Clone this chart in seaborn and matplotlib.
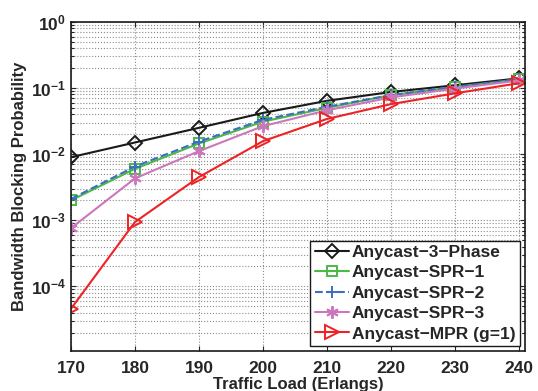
import numpy as np
import pandas as pd
import seaborn as sns
import matplotlib as mpl
mpl.use('Agg')
import matplotlib.pyplot as plt
from matplotlib.ticker import LogLocator, NullFormatter

sns.set_style('ticks')
plt.rcParams['font.family'] = ['Liberation Sans', 'DejaVu Sans']
plt.rcParams['font.weight'] = 'bold'
plt.rcParams['mathtext.default'] = 'bf'

load = [170, 180, 190, 200, 210, 220, 230, 240]
phase3 = [0.0090, 0.0150, 0.025, 0.042, 0.064, 0.087, 0.110, 0.140]
spr1 = [0.0020, 0.0060, 0.0145, 0.031, 0.050, 0.078, 0.103, 0.135]
spr2 = [0.0021, 0.0065, 0.0155, 0.033, 0.052, 0.078, 0.104, 0.135]
spr3 = [0.00076, 0.0043, 0.0111, 0.0265, 0.046, 0.072, 0.098, 0.130]
mpr = [0.000046, 0.00094, 0.0045, 0.0157, 0.034, 0.057, 0.083, 0.118]

series = [
    ('Anycast\u22123\u2212Phase', phase3, '#1a1a1a', 'D', '-', 7.5),
    ('Anycast\u2212SPR\u22121', spr1, '#4cb847', 's', '-', 7),
    ('Anycast\u2212SPR\u22122', spr2, '#3b6fc0', '+', '--', 9),
    ('Anycast\u2212SPR\u22123', spr3, '#cc77bb', (6, 2, 0), '-', 9),
    ('Anycast\u2212MPR (g=1)', mpr, '#ee2224', '>', '-', 10),
]

fig, ax = plt.subplots(figsize=(5.38, 3.91), dpi=100)
fig.subplots_adjust(left=0.132, right=0.976, top=0.944, bottom=0.102)

for name, vals, color, marker, ls, ms in series:
    df = pd.DataFrame({'load': load, 'p': vals})
    sns.lineplot(data=df, x='load', y='p', ax=ax, color=color, marker=marker,
                 linestyle=ls, lw=1.5, markersize=ms,
                 markerfacecolor='none', markeredgecolor=color, markeredgewidth=1.4,
                 label=name)

ax.set_yscale('log')
ax.set(xlim=(170, 241), ylim=(1.05e-5, 1),
       xticks=load)
ax.yaxis.set_major_locator(LogLocator(base=10, numticks=10))
ax.yaxis.set_minor_locator(LogLocator(base=10, subs=np.arange(2, 10), numticks=20))
ax.yaxis.set_minor_formatter(NullFormatter())
ax.grid(True, which='major', axis='both', linestyle=':', color='#8c8c8c', lw=0.8)
ax.grid(True, which='minor', axis='y', linestyle=':', color='#8c8c8c', lw=0.8)
ax.tick_params(which='both', direction='in', top=True, right=True, labelsize=12.5, width=0.8)
ax.tick_params(axis='x', pad=7)
for s in ax.spines.values():
    s.set_linewidth(1.2)
    s.set_color('#1a1a1a')

ax.set_xlabel('Traffic Load (Erlangs)', fontsize=12, fontweight='bold', labelpad=1)
ax.set_ylabel('Bandwidth Blocking Probability', fontsize=12, fontweight='bold', labelpad=3)

leg = ax.legend(loc='lower right', fontsize=12.5, frameon=True, fancybox=False,
                edgecolor='#1a1a1a', borderpad=0.25, labelspacing=0.3,
                handlelength=2.0, handletextpad=0.15, borderaxespad=0.3)
leg.get_frame().set_linewidth(1.0)
leg.get_frame().set_alpha(1)

fig.savefig('out.png', dpi=100)
